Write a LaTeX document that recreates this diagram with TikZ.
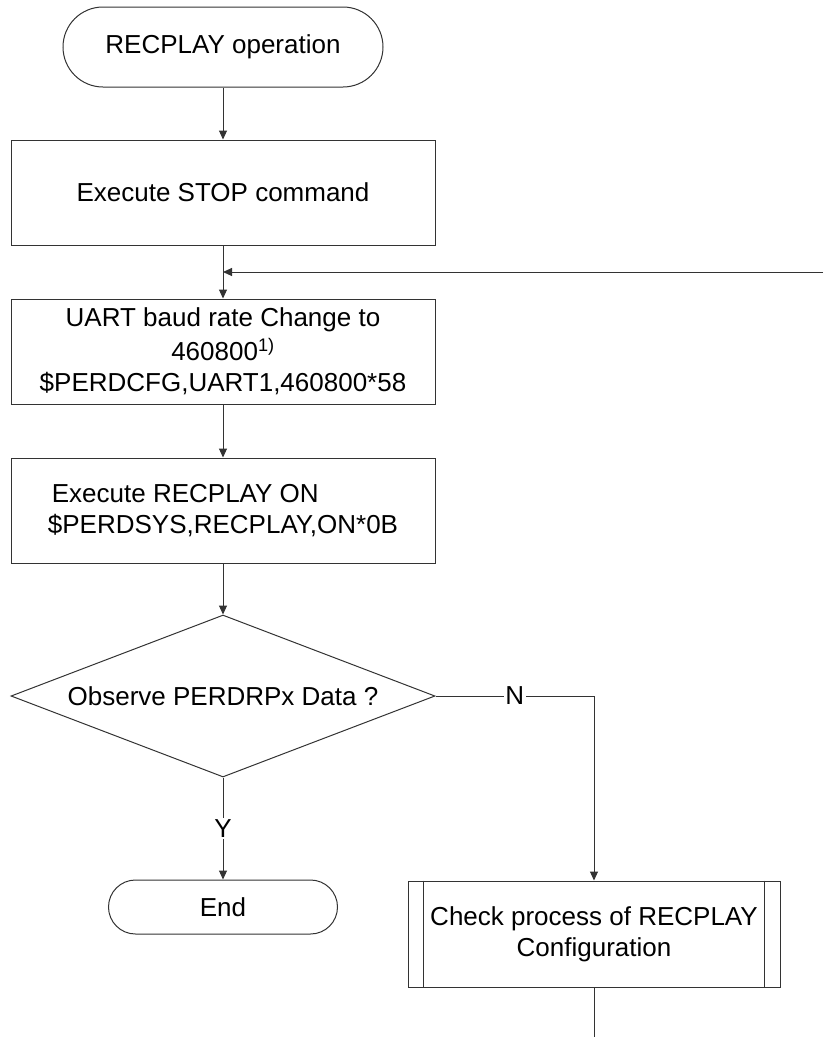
\documentclass[tikz,border=0pt]{standalone}
\usepackage{fontspec}
\setmainfont{Liberation Sans}
\usetikzlibrary{shapes.geometric,arrows.meta}
\begin{document}
\begin{tikzpicture}[x=1pt,y=-1pt,
  every node/.style={font=\fontsize{26}{31}\selectfont, text=black},
  ln/.style={draw=black!80, line width=1pt},
  arr/.style={ln, -{Triangle[length=9pt,width=8pt]}},
  term/.style={ln, rectangle, inner sep=0pt, fill=white},
  procbox/.style={ln, rectangle, inner sep=0pt, minimum width=424pt, minimum height=105pt},
  decbox/.style={ln, diamond, aspect=2.6, inner sep=0pt, minimum width=424pt, minimum height=162pt},
  lbl/.style={fill=white, inner sep=1.5pt}
]
\useasboundingbox (0,0) rectangle (823,1037);

\node[term, rounded corners=40pt, minimum width=320pt, minimum height=80pt] (start) at (223,47) {RECPLAY operation};
\node[procbox] (stop) at (223,192.5) {Execute STOP command};
\node[procbox, align=center] (uart) at (223,351.5) {UART baud rate Change to\\[3pt]460800\textsuperscript{1)}\\\$PERDCFG,UART1,460800*58};
\node[procbox, align=left] (on) at (223,510.5) {\hspace{4pt}Execute RECPLAY ON\\\$PERDSYS,RECPLAY,ON*0B};
\node[decbox] (dec) at (223,696) {Observe PERDRPx Data ?};
\node[term, rounded corners=27pt, minimum width=229pt, minimum height=54pt] (end) at (223,907) {End};
\node[procbox, align=center, minimum width=372pt, minimum height=106pt] (chk) at (594,934) {Check process of RECPLAY\\Configuration};
\draw[ln] ([xshift=16pt]chk.north west) -- ([xshift=16pt]chk.south west);
\draw[ln] ([xshift=-16pt]chk.north east) -- ([xshift=-16pt]chk.south east);

\coordinate (fb) at (823,272);
\coordinate (out) at (594,1037);

\draw[arr] (start) -- (stop);
\draw[arr] (stop) -- (uart);
\draw[arr] (fb) -- (fb -| stop.south);
\draw[arr] (uart) -- (on);
\draw[arr] (on) -- (dec);
\draw[arr] (dec.south) -- node[lbl] {Y} (end.north);
\draw[arr] (dec.east) -- node[lbl] {N} (dec.east -| chk.north) -- (chk.north);
\draw[ln] (chk.south) -- (out);
\end{tikzpicture}
\end{document}
